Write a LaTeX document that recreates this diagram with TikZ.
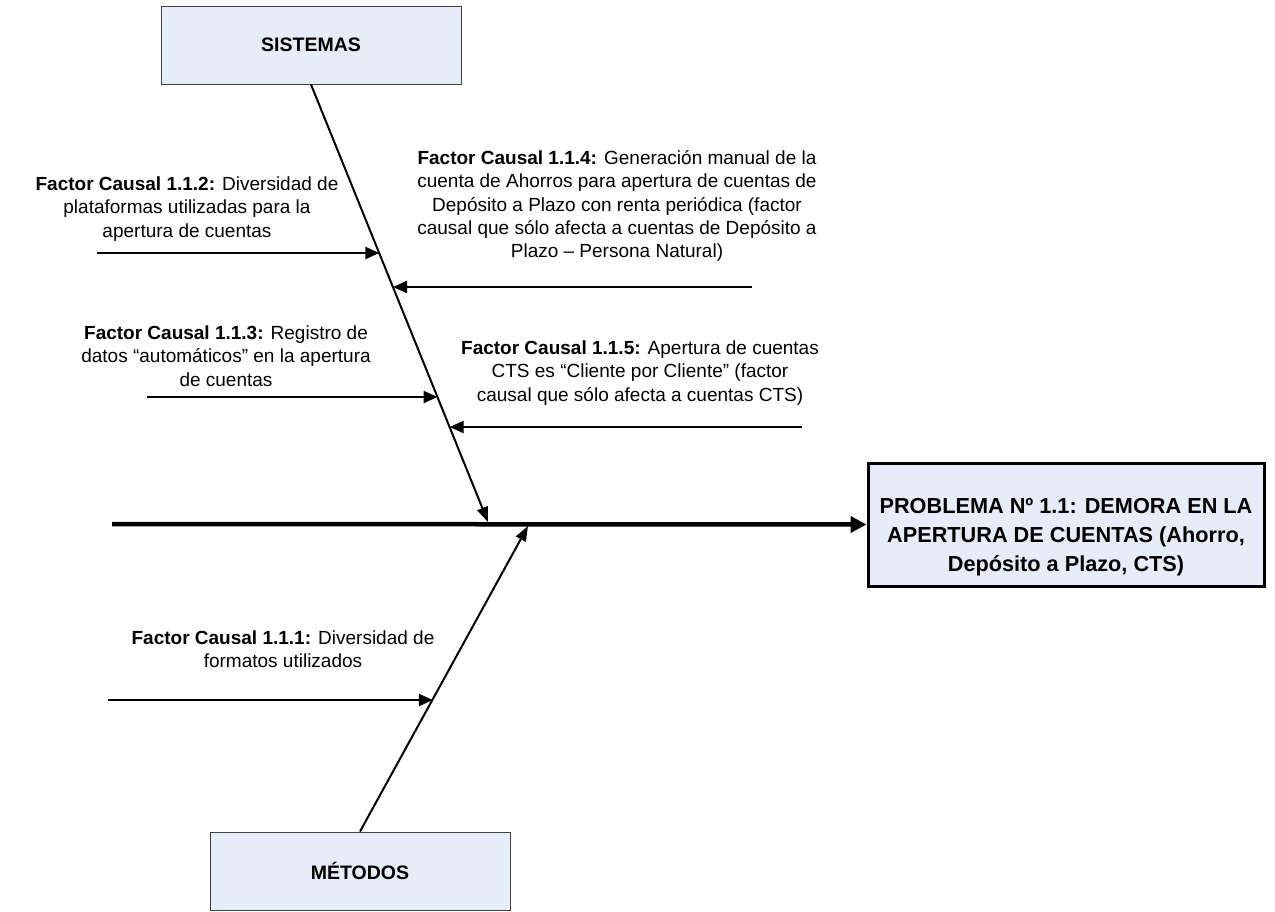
\documentclass[tikz,border=0pt]{standalone}
\usepackage{fontspec}
\setmainfont{Liberation Sans}
\usetikzlibrary{arrows.meta}
\definecolor{boxfill}{HTML}{E7EDF8}
\definecolor{boxedge}{HTML}{404040}
\begin{document}
\begin{tikzpicture}[x=1pt,y=-1pt,
  catbox/.style={draw=boxedge,line width=1pt,fill=boxfill,minimum width=300pt,minimum height=78pt,inner sep=0pt,
    font=\fontsize{19.5}{23}\selectfont\bfseries},
  probbox/.style={draw=black,line width=3pt,fill=boxfill,minimum width=396pt,minimum height=123pt,inner sep=0pt},
  probtext/.style={align=center,inner sep=0pt,font=\fontsize{21.7}{29}\selectfont\bfseries},
  causetext/.style={align=center,inner sep=0pt,font=\fontsize{19}{23.3}\selectfont},
  bone/.style={line width=2pt,-{Triangle[length=15pt,width=11pt]}},
  branch/.style={line width=2.2pt,-{Triangle[length=14pt,width=12pt]}},
  spine/.style={line width=4.5pt,-{Triangle[length=16pt,width=16pt]}}]
\useasboundingbox (0,0) rectangle (1275,911);

% category boxes and effect box
\node[catbox] (sis) at (311,45) {SISTEMAS};
\node[catbox] (met) at (360,871) {MÉTODOS};
\node[probbox] (prob) at (1066,524.5) {};
\node[probtext] (probtxt) at (1066,537) {PROBLEMA Nº 1.1: DEMORA EN LA\\APERTURA DE CUENTAS (Ahorro,\\Depósito a Plazo, CTS)};

% spine
\coordinate (tail) at (112,524);
\draw[spine] (tail) -- (prob.west);

% main bones
\coordinate (sisTip) at (488,522);
\coordinate (metTip) at (528,526);
\draw[bone] (sis.south) -- (sisTip);
\draw[bone] (met.north) -- (metTip);

% cause branches on SISTEMAS
\coordinate (s112) at (97,253);   \coordinate (e112) at (379.3,253);
\coordinate (s114) at (752,287);  \coordinate (e114) at (393.0,287);
\coordinate (s113) at (147,397);  \coordinate (e113) at (437.5,397);
\coordinate (s115) at (802,427);  \coordinate (e115) at (449.6,427);
\draw[branch] (s112) -- (e112);
\draw[branch] (s114) -- (e114);
\draw[branch] (s113) -- (e113);
\draw[branch] (s115) -- (e115);

% cause branch on MÉTODOS
\coordinate (s111) at (108,700); \coordinate (e111) at (432.8,700);
\draw[branch] (s111) -- (e111);

% cause texts
\node[causetext] (t112) at (187,209) {\textbf{Factor Causal 1.1.2:} Diversidad de\\plataformas utilizadas para la\\apertura de cuentas};
\node[causetext] (t114) at (617,206) {\textbf{Factor Causal 1.1.4:} Generación manual de la\\cuenta de Ahorros para apertura de cuentas de\\Depósito a Plazo con renta periódica (factor\\causal que sólo afecta a cuentas de Depósito a\\Plazo – Persona Natural)};
\node[causetext] (t113) at (226,356) {\textbf{Factor Causal 1.1.3:} Registro de\\datos “automáticos” en la apertura\\de cuentas};
\node[causetext] (t115) at (640,373) {\textbf{Factor Causal 1.1.5:} Apertura de cuentas\\CTS es “Cliente por Cliente” (factor\\causal que sólo afecta a cuentas CTS)};
\node[causetext] (t111) at (283,649) {\textbf{Factor Causal 1.1.1:} Diversidad de\\formatos utilizados};
\end{tikzpicture}
\end{document}
